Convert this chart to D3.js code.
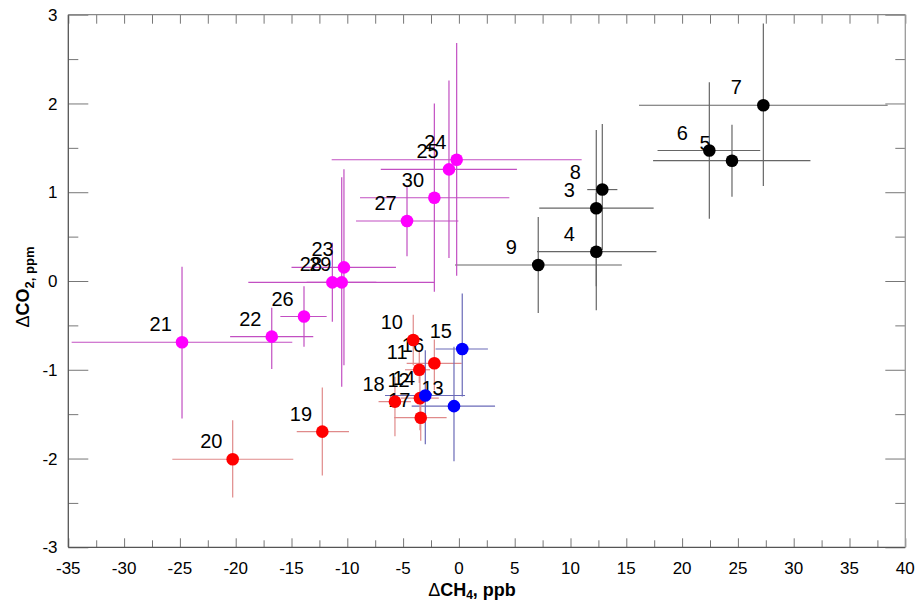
<!DOCTYPE html>
<html>
<head>
<meta charset="utf-8">
<script src="https://cdn.jsdelivr.net/npm/d3@7"></script>
<style>
  body { margin: 0; background: #fff; }
  svg { display: block; font-family: "Liberation Sans", Arial, sans-serif; }
</style>
</head>
<body>
<div id="chart"></div>
<script>
var width = 918, height = 604;
var plot = {left: 68.3, right: 905.3, top: 14.7, bottom: 547.3};

// point numbers and group (b = black, r = red, u = blue, m = magenta)
var ids    = [3, 4, 5, 6, 7, 8, 9,
              10, 11, 12, 16, 17, 18, 19, 20,
              13, 14, 15,
              21, 22, 23, 24, 25, 26, 27, 28, 29, 30];
var groups = ['b','b','b','b','b','b','b',
              'r','r','r','r','r','r','r','r',
              'u','u','u',
              'm','m','m','m','m','m','m','m','m','m'];
// dCH4, ppb
var xVals  = [12.31, 12.31, 24.47, 22.44, 27.28, 12.85, 7.11,
              -4.09, -3.55, -3.49, -2.20, -3.42, -5.73, -12.24, -20.27,
              -0.44, -3.01, 0.30,
              -24.81, -16.77, -10.30, -0.20, -0.89, -13.88, -4.65, -11.34, -10.50, -2.20];
var xLo    = [7.2, 7.0, 17.4, 17.8, 16.14, 11.5, -0.35,
              -4.5, -4.83, -5.2, -4.68, -5.8, -7.2, -14.53, -25.68,
              -4.23, -6.62, -2.09,
              -34.7, -20.5, -15.0, -11.4, -7.0, -16.0, -9.22, -18.87, -13.64, -8.86];
var xHi    = [17.45, 17.7, 31.5, 27.0, 38.42, 14.2, 14.6,
              -3.6, -2.59, -1.8, 0.25, -1.1, -4.3, -9.85, -14.84,
              3.24, 0.55, 2.6,
              -14.93, -13.05, -5.64, 11.0, 5.2, -11.85, -0.05, -2.2, -7.4, 4.52];
// dCO2, ppm
var yVals  = [0.82, 0.33, 1.355, 1.47, 1.98, 1.03, 0.18,
              -0.664, -1.00, -1.32, -0.927, -1.54, -1.359, -1.697, -2.008,
              -1.41, -1.29, -0.766,
              -0.69, -0.627, 0.154, 1.366, 1.258, -0.40, 0.676, -0.015, -0.015, 0.938];
var yLo    = [-0.06, -0.33, 0.95, 0.70, 1.07, 0.35, -0.36,
              -0.95, -1.15, -1.68, -1.23, -1.80, -1.75, -2.19, -2.44,
              -2.03, -1.84, -1.30,
              -1.55, -0.99, -0.95, 0.06, 0.26, -0.74, 0.28, -0.46, -1.19, -0.12];
var yHi    = [1.70, 0.99, 1.76, 2.24, 2.90, 1.77, 0.72,
              -0.38, -0.78, -1.04, -0.66, -1.28, -1.08, -1.20, -1.57,
              -0.74, -0.78, -0.14,
              0.16, -0.30, 1.26, 2.68, 2.26, -0.06, 1.06, 0.43, 1.17, 2.0];

var xMajor = [-35, -30, -25, -20, -15, -10, -5, 0, 5, 10, 15, 20, 25, 30, 35, 40];
var yMajor = [-3, -2, -1, 0, 1, 2, 3];

var dotColor = {b: '#000000', r: '#ff0000', u: '#0000ff', m: '#ff00ff'};
var barColor = {b: '#666666', r: '#e08a8a', u: '#6a6ab8', m: '#c24fc2'};

var data = ids.map(function(id, i) {
  return {id: id, g: groups[i], x: xVals[i], y: yVals[i],
          x0: xLo[i], x1: xHi[i], y0: yLo[i], y1: yHi[i]};
});

var svg = d3.select('#chart').append('svg')
    .attr('width', width)
    .attr('height', height);

var xScale = d3.scaleLinear().domain([-35, 40]).range([plot.left, plot.right]);
var yScale = d3.scaleLinear().domain([-3, 3]).range([plot.bottom, plot.top]);

var xMinor = d3.range(-32.5, 40, 5);
var yMinor = d3.range(-2.5, 3, 1);

// ticks (inside) on all four sides
function tickAxis(axis, vals, size, tr) {
  var g = svg.append('g')
      .attr('transform', tr)
      .call(axis.tickValues(vals).tickSize(size).tickSizeOuter(0).tickFormat(''));
  g.select('.domain').remove();
  g.selectAll('line').attr('stroke', '#777');
  return g;
}
tickAxis(d3.axisBottom(xScale), xMajor, -9, 'translate(0,' + plot.bottom + ')');
tickAxis(d3.axisBottom(xScale), xMinor, -7, 'translate(0,' + plot.bottom + ')');
tickAxis(d3.axisTop(xScale), xMajor, -9, 'translate(0,' + plot.top + ')');
tickAxis(d3.axisTop(xScale), xMinor, -9, 'translate(0,' + plot.top + ')');
tickAxis(d3.axisLeft(yScale), yMajor, -20, 'translate(' + plot.left + ',0)');
tickAxis(d3.axisLeft(yScale), yMinor, -10, 'translate(' + plot.left + ',0)');
tickAxis(d3.axisRight(yScale), yMajor, -20, 'translate(' + plot.right + ',0)');
tickAxis(d3.axisRight(yScale), yMinor, -10, 'translate(' + plot.right + ',0)');

// frame
svg.append('line').attr('x1', plot.left).attr('x2', plot.right)
    .attr('y1', plot.bottom).attr('y2', plot.bottom).attr('stroke', '#555').attr('stroke-width', 1.3);
svg.append('line').attr('x1', plot.left).attr('x2', plot.left)
    .attr('y1', plot.top).attr('y2', plot.bottom).attr('stroke', '#555').attr('stroke-width', 1.3);
svg.append('line').attr('x1', plot.left).attr('x2', plot.right)
    .attr('y1', plot.top).attr('y2', plot.top).attr('stroke', '#888').attr('stroke-width', 1.3);
svg.append('line').attr('x1', plot.right).attr('x2', plot.right)
    .attr('y1', plot.top).attr('y2', plot.bottom).attr('stroke', '#999').attr('stroke-width', 1.3);

// tick labels
svg.append('g').selectAll('text')
    .data(xMajor).enter().append('text')
    .attr('x', function(d) { return xScale(d); })
    .attr('y', 574)
    .attr('text-anchor', 'middle')
    .style('font-size', '17px')
    .text(function(d) { return d; });

svg.append('g').selectAll('text')
    .data(yMajor).enter().append('text')
    .attr('x', 57.5)
    .attr('y', function(d) { return yScale(d); })
    .attr('dy', '0.36em')
    .attr('text-anchor', 'end')
    .style('font-size', '17px')
    .text(function(d) { return d; });

// axis titles
var xt = svg.append('text')
    .attr('x', 472)
    .attr('y', 596)
    .attr('text-anchor', 'middle')
    .style('font-size', '18px')
    .style('font-weight', 'bold');
xt.append('tspan').style('font-weight', 'normal').text('\u0394');
xt.append('tspan').text('CH');
xt.append('tspan').attr('dy', 3).style('font-size', '12px').text('4');
xt.append('tspan').attr('dy', -3).text(', ppb');

var yt = svg.append('text')
    .attr('transform', 'translate(29,287) rotate(-90)')
    .attr('text-anchor', 'middle')
    .style('font-size', '18px')
    .style('font-weight', 'bold');
yt.append('tspan').style('font-weight', 'normal').text('\u0394');
yt.append('tspan').text('CO');
yt.append('tspan').attr('dy', 5).style('font-size', '13px').text('2, ppm');

// error bars
var bars = svg.append('g');
bars.selectAll('.hbar')
    .data(data).enter().append('line')
    .attr('class', 'hbar')
    .attr('x1', function(d) { return xScale(d.x0); })
    .attr('x2', function(d) { return xScale(d.x1); })
    .attr('y1', function(d) { return yScale(d.y); })
    .attr('y2', function(d) { return yScale(d.y); })
    .attr('stroke', function(d) { return barColor[d.g]; })
    .attr('stroke-width', 1.2);
bars.selectAll('.vbar')
    .data(data).enter().append('line')
    .attr('class', 'vbar')
    .attr('x1', function(d) { return xScale(d.x); })
    .attr('x2', function(d) { return xScale(d.x); })
    .attr('y1', function(d) { return yScale(d.y0); })
    .attr('y2', function(d) { return yScale(d.y1); })
    .attr('stroke', function(d) { return barColor[d.g]; })
    .attr('stroke-width', 1.2);

// point numbers
svg.append('g').selectAll('text')
    .data(data).enter().append('text')
    .attr('x', function(d) { return xScale(d.x) - 32.5; })
    .attr('y', function(d) { return yScale(d.y) - 11; })
    .style('font-size', '20px')
    .attr('fill', '#000')
    .text(function(d) { return d.id; });

// points
svg.append('g').selectAll('circle')
    .data(data).enter().append('circle')
    .attr('cx', function(d) { return xScale(d.x); })
    .attr('cy', function(d) { return yScale(d.y); })
    .attr('r', 6.3)
    .attr('fill', function(d) { return dotColor[d.g]; });
</script>
</body>
</html>
